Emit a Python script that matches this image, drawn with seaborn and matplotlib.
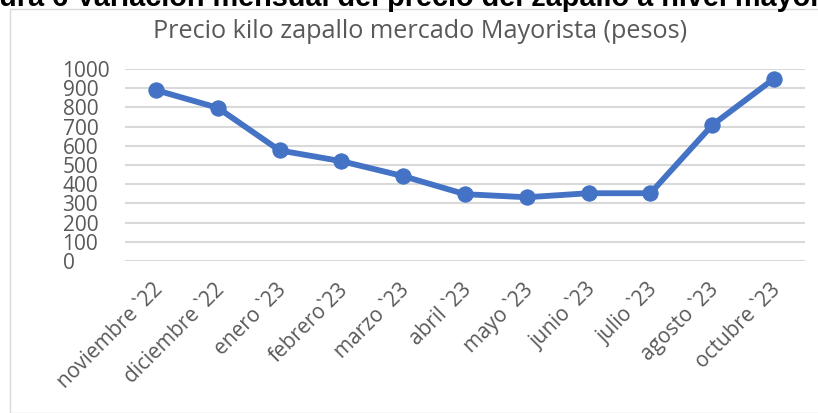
import matplotlib
matplotlib.use("Agg")
import matplotlib.pyplot as plt
import matplotlib.transforms as mtransforms
import seaborn as sns
import pandas as pd
from matplotlib.patches import Rectangle

# data
meses = ["noviembre `22", "diciembre `22", "enero `23", "febrero`23", "marzo `23",
         "abril `23", "mayo `23", "junio `23", "julio `23", "agosto `23", "octubre `23"]
precio = [890, 798, 576, 520, 442, 348, 332, 353, 353, 708, 950]
yticks = [0, 100, 200, 300, 400, 500, 600, 700, 800, 900, 1000]

titulo = "Precio kilo zapallo mercado Mayorista (pesos)"
leyenda_fig = "Figura 6 Variación mensual del precio del zapallo a nivel mayorista"

df = pd.DataFrame({"mes": meses, "precio": precio})

sns.set_theme(style="white")
plt.rcParams["font.family"] = ["Open Sans", "DejaVu Sans"]

azul = "#4472C4"
gris_txt = "#595959"

fig = plt.figure(figsize=(8.18, 4.13), dpi=100)
ax = fig.add_axes([125 / 818, 1 - 261 / 413, 680 / 818, 192 / 413])

# chart frame like the Excel chart area
fig.patches.append(Rectangle((9.5 / 818, 0), 1, 1 - 8.5 / 413, transform=fig.transFigure,
                             fill=False, edgecolor="#D9D9D9", linewidth=1.0))

sns.lineplot(data=df, x="mes", y="precio", ax=ax, color=azul, linewidth=4.2,
             marker="o", markersize=11, markeredgecolor=azul, sort=False)

ax.set_xlim(-0.5, len(meses) - 0.5)
ax.set_ylim(0, 1000)
ax.set_yticks(yticks)
ax.set_yticklabels([str(v) for v in yticks])
ax.yaxis.grid(True, color="#D9D9D9", linewidth=1.5)
ax.set_axisbelow(True)
for s in ax.spines.values():
    s.set_visible(False)

ax.tick_params(axis="y", length=0, pad=45, labelsize=15, labelcolor=gris_txt)
for lab in ax.get_yticklabels():
    lab.set_horizontalalignment("left")
ax.tick_params(axis="x", length=0, pad=13, labelsize=15, labelcolor=gris_txt)
desplaza = mtransforms.ScaledTranslation(-4 / 100, 0, fig.dpi_scale_trans)
for lab in ax.get_xticklabels():
    lab.set_rotation(45)
    lab.set_horizontalalignment("right")
    lab.set_rotation_mode("anchor")
    lab.set_transform(lab.get_transform() + desplaza)
ax.set_xlabel("")
ax.set_ylabel("")

fig.text(420 / 818, 1 - 31 / 413, titulo, ha="center", va="center",
         fontsize=18.2, color=gris_txt)
fig.text(-43.5 / 818, 1 - 6 / 413, leyenda_fig, ha="left", va="baseline",
         fontsize=20.8, fontweight="bold", color="black", family="Liberation Sans")

fig.savefig("out.png", dpi=100)
